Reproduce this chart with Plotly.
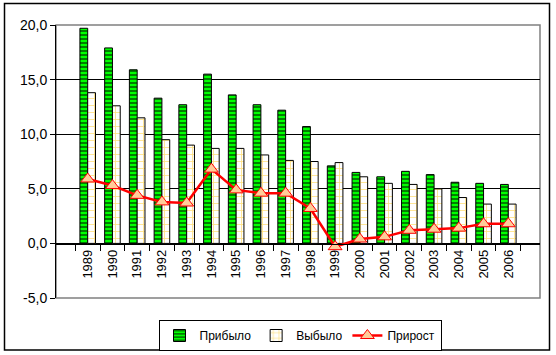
import plotly.graph_objects as go

years = ["1989", "1990", "1991", "1992", "1993", "1994", "1995", "1996", "1997",
         "1998", "1999", "2000", "2001", "2002", "2003", "2004", "2005", "2006"]
arrived = [19.7, 17.9, 15.9, 13.3, 12.7, 15.5, 13.6, 12.7, 12.2,
           10.7, 7.1, 6.5, 6.1, 6.6, 6.3, 5.6, 5.5, 5.4]
departed = [13.8, 12.6, 11.5, 9.5, 9.0, 8.7, 8.7, 8.1, 7.6,
            7.5, 7.4, 6.1, 5.5, 5.4, 5.0, 4.2, 3.6, 3.6]
growth = [5.9, 5.3, 4.4, 3.8, 3.7, 6.8, 4.9, 4.6, 4.6,
          3.2, -0.3, 0.4, 0.6, 1.2, 1.3, 1.4, 1.8, 1.8]
y_ticks = [-5, 0, 5, 10, 15, 20]
y_tick_labels = ["-5,0", "0,0", "5,0", "10,0", "15,0", "20,0"]

W, H = 556, 355
L, R, T, B = 56, 540, 25, 298  # plot area pixel bounds

def px(x):
    return (x - L) / (R - L)

def py(y):
    return (B - y) / (B - T)

fig = go.Figure()
fig.add_trace(go.Bar(
    x=years, y=arrived, name="Прибыло",
    marker=dict(color="#00FF00", line=dict(color="black", width=1),
                pattern=dict(shape="-", fgcolor="black", bgcolor="#00FF00",
                             size=4, solidity=0.5, fillmode="overlay")),
))
fig.add_trace(go.Bar(
    x=years, y=departed, name="Выбыло",
    marker=dict(color="white", line=dict(color="black", width=1),
                pattern=dict(shape="+", fgcolor="#FFC000", bgcolor="white",
                             size=7, solidity=0.22, fillmode="overlay")),
))
fig.add_trace(go.Scatter(
    x=years, y=growth, name="Прирост", mode="lines+markers",
    line=dict(color="#FF0000", width=2.5),
    marker=dict(symbol="triangle-up", size=12, color="#FFCC99",
                line=dict(color="#FF0000", width=1)),
))

fig.update_layout(
    width=W, height=H,
    margin=dict(l=L, r=W - R, t=T, b=H - B, autoexpand=False),
    paper_bgcolor="white", plot_bgcolor="white",
    separators=", ",
    barmode="group", bargap=0.37, bargroupgap=0,
    font=dict(family="Liberation Sans", size=13, color="black"),
    legend=dict(orientation="h", x=px(300), xanchor="center", y=py(320), yanchor="top",
                bordercolor="black", borderwidth=1, bgcolor="white",
                font=dict(size=12), itemwidth=30, tracegroupgap=0),
    showlegend=True,
)
fig.update_xaxes(
    type="category", anchor="free", position=py(243.5),
    showline=True, linecolor="black", linewidth=1,
    ticks="outside", ticklen=6, tickcolor="black", tickson="boundaries",
    tickangle=-90, tickfont=dict(size=13), showgrid=False, zeroline=False,
    automargin=False,
)
fig.update_yaxes(
    range=[-5, 20], tickvals=y_ticks, ticktext=y_tick_labels,
    showline=True, linecolor="black", linewidth=1,
    ticks="outside", ticklen=5, tickcolor="black",
    showgrid=True, gridcolor="black", gridwidth=1, zeroline=False,
    tickfont=dict(size=14), automargin=False,
)
# plot-area border (grey) and outer chart border (black)
fig.add_shape(type="rect", xref="paper", yref="paper", x0=0, y0=0, x1=1, y1=1,
              line=dict(color="#808080", width=1.5), layer="between")
fig.add_shape(type="rect", xref="paper", yref="paper",
              x0=px(4.5), y0=py(350), x1=px(549.5), y1=py(3.5),
              line=dict(color="black", width=1.5), layer="below")

fig.write_html(
    "out.html",
    config={"displayModeBar": False},
    post_script="document.body.style.margin='0';document.body.style.overflow='hidden';",
)
